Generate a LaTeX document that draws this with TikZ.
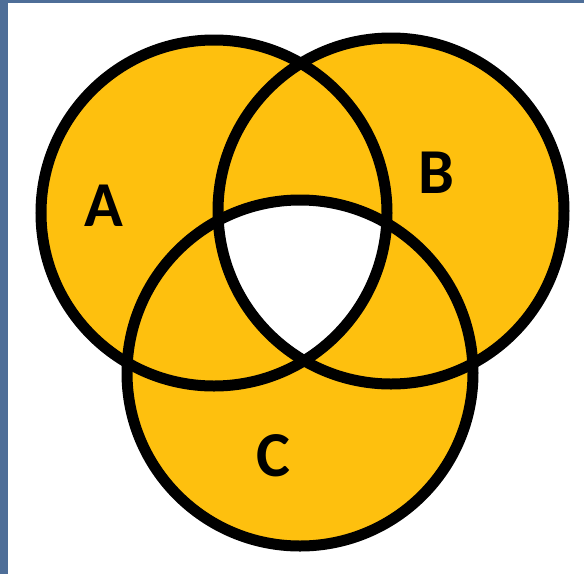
\documentclass[tikz,border=0pt]{standalone}
\usepackage{fontspec}
\setmainfont{Carlito}
\definecolor{vennyellow}{RGB}{254,192,14}
\definecolor{slideblue}{RGB}{78,110,152}
\tikzset{
    venn/.style={line width=11pt, draw=black},
    setlabel/.style={font=\fontsize{64}{64}\selectfont\bfseries, inner sep=0pt}
}
\begin{document}
\begin{tikzpicture}[x=1pt, y=-1pt]
        \useasboundingbox (0,0) rectangle (584,574);
        \fill[slideblue] (0,0) rectangle (584,574);
        \fill[white] (8,3) rectangle (584,574);
        % centres of the three sets
        \coordinate (setA) at (214,213);
        \coordinate (setB) at (391,211);
        \coordinate (setC) at (300,373);
        \fill[vennyellow] (setA) circle (173) (setB) circle (173) (setC) circle (173);
        \begin{scope}
            \clip (setA) circle (173);
            \clip (setB) circle (173);
            \fill[white] (setC) circle (173);
        \end{scope}
        \draw[venn] (setA) circle (173);
        \draw[venn] (setB) circle (173);
        \draw[venn] (setC) circle (173);
        \node[setlabel] (labA) at (104,206) {A};
        \node[setlabel] (labB) at (436,173) {B};
        \node[setlabel] (labC) at (273,456) {C};
    \end{tikzpicture}
\end{document}
